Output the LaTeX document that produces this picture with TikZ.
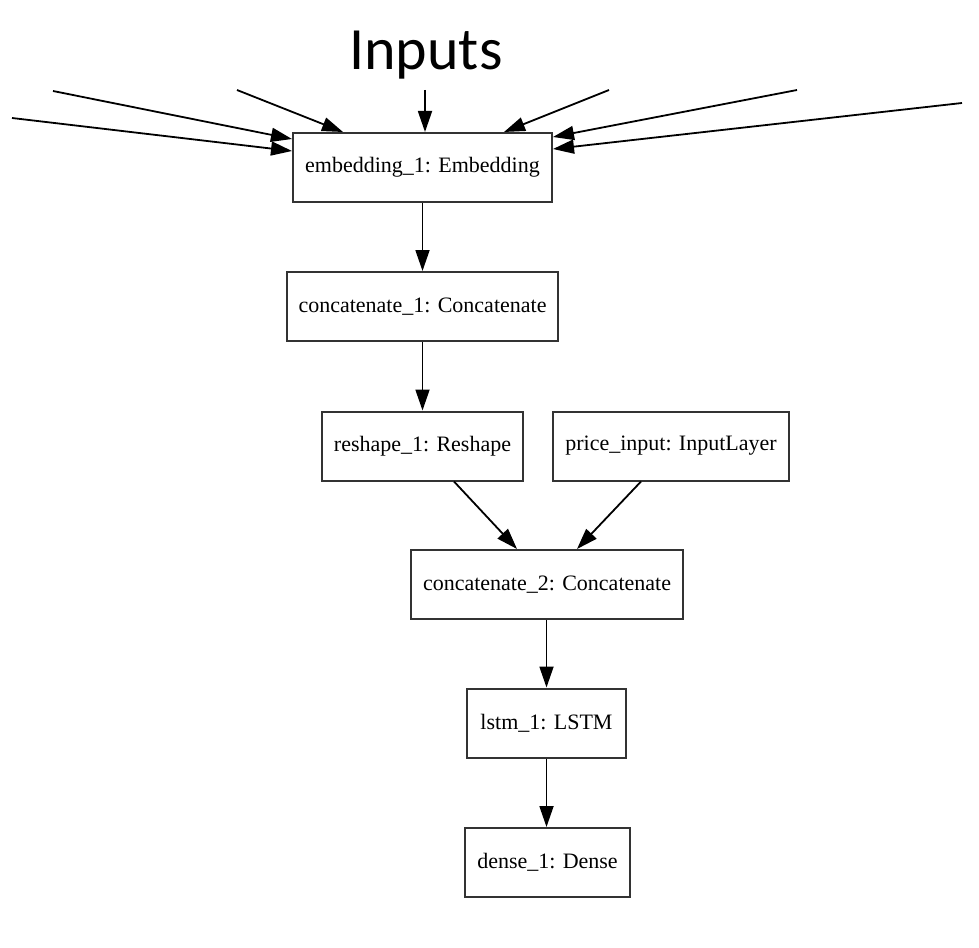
\documentclass[tikz,border=0pt]{standalone}
\usepackage{fontspec}
\setmainfont{Liberation Serif}
\newfontfamily\titlefont{Carlito}
\usetikzlibrary{arrows.meta,calc}
\begin{document}
\begin{tikzpicture}[x=1pt,y=-1pt,
  layer/.style={draw=black!80, line width=2pt, fill=white, minimum height=69pt, inner sep=0pt,
    font=\fontsize{22}{26}\selectfont},
  conn/.style={draw=black, line width=1.8pt, -{Triangle[length=21pt,width=14pt]}}]
\useasboundingbox (0,0) rectangle (979,947);
\node[font=\titlefont\fontsize{60}{70}\selectfont, anchor=base] (title) at (426,70) {Inputs};
\node[layer, minimum width=259pt] (emb) at (422.5,167.5) {embedding\_1: Embedding};
\node[layer, minimum width=271pt] (cat1) at (422.5,306.5) {concatenate\_1: Concatenate};
\node[layer, minimum width=201pt] (resh) at (422.5,446) {reshape\_1: Reshape};
\node[layer, minimum width=236pt] (price) at (671,446) {price\_input: InputLayer};
\node[layer, minimum width=272pt] (cat2) at (547,584.5) {concatenate\_2: Concatenate};
\node[layer, minimum width=159pt] (lstm) at (546.5,723) {lstm\_1: LSTM};
\node[layer, minimum width=165pt] (dense) at (547.5,862.5) {dense\_1: Dense};
% free ends of the input arrows
\coordinate (ia) at (53,91);
\coordinate (ib) at (12,118);
\coordinate (ic) at (237,90);
\coordinate (id) at (425,90);
\coordinate (ie) at (609,90);
\coordinate (if) at (797,90);
\coordinate (ig) at (962,103);
\draw[conn] (ia) -- ($(emb.north west)+(0,7)$);
\draw[conn] (ib) -- ($(emb.north west)+(0,19)$);
\draw[conn] (ic) -- ($(emb.north west)+(51,0)$);
\draw[conn] (id) -- ($(emb.north)+(2.5,0)$);
\draw[conn] (ie) -- ($(emb.north east)+(-49,0)$);
\draw[conn] (if) -- ($(emb.north east)+(0,5)$);
\draw[conn] (ig) -- ($(emb.north east)+(0,17)$);
\draw[conn] (emb) -- (cat1);
\draw[conn] (cat1) -- (resh);
\draw[conn] ($(resh.south)+(31.5,0)$) -- ($(cat2.north)+(-30,0)$);
\draw[conn] ($(price.south)+(-30,0)$) -- ($(cat2.north)+(30,0)$);
\draw[conn] (cat2.south -| lstm.north) -- (lstm.north);
\draw[conn] (lstm.south) -- (lstm.south |- dense.north);
\end{tikzpicture}
\end{document}
